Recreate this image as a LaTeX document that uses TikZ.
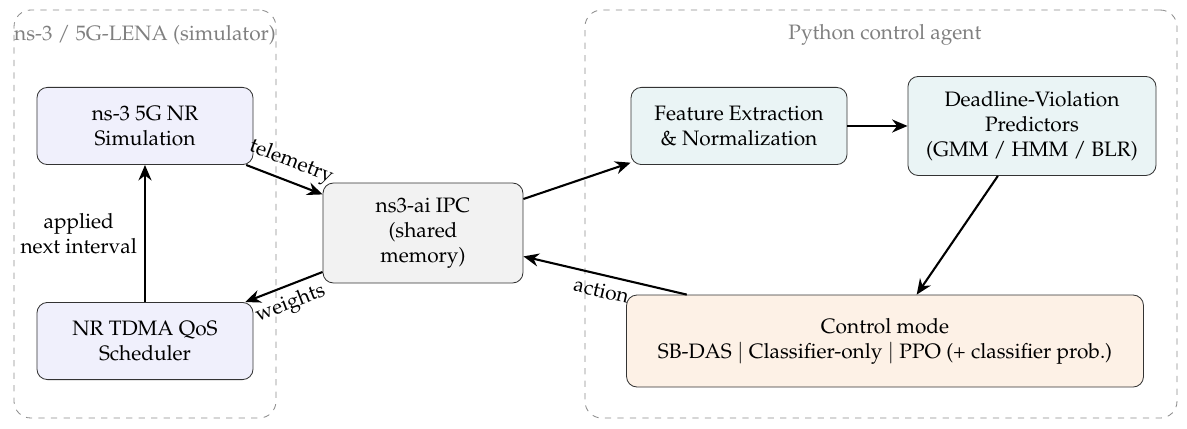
\documentclass[tikz,border=0pt]{standalone}
\usepackage[T1]{fontenc}
\usepackage{mathpazo}
\definecolor{SimLavender}{RGB}{240,240,252}
\definecolor{AgentTeal}{RGB}{234,244,245}
\definecolor{ModePeach}{RGB}{253,241,230}
\definecolor{IpcGray}{RGB}{242,242,242}
\definecolor{FrameGray}{RGB}{140,140,140}
\definecolor{TitleGray}{RGB}{128,128,128}
\usetikzlibrary{arrows.meta,positioning}
\tikzset{
  block/.style={draw=black!80, rounded corners=5pt, align=center, minimum width=3.64cm, minimum height=1.3cm},
  group/.style={draw=FrameGray, dashed, rounded corners=8pt},
  flow/.style={-{Stealth[length=2.6mm,width=2.2mm]}, line width=1pt},
}

\begin{document}
\begin{tikzpicture}
\useasboundingbox (0,0) rectangle (20,-7.212);

% dashed groups
\node[group, minimum width=4.414cm, minimum height=6.874cm] (simgroup) at (2.443,-3.606) {};
\node[group, minimum width=9.975cm, minimum height=6.874cm] (agentgroup) at (14.844,-3.606) {};
\node[text=TitleGray] (simtitle) at (2.443,-0.59) {ns-3 / 5G-LENA (simulator)};
\node[text=TitleGray] (agenttitle) at (14.91,-0.59) {Python control agent};

% simulator side
\node[block, fill=SimLavender] (sim) at (2.443,-2.123) {ns-3 5G NR\\Simulation};
\node[block, fill=SimLavender] (sched) at (2.443,-5.746) {NR TDMA QoS\\Scheduler};
\node[block, fill=IpcGray, minimum width=3.37cm, minimum height=1.685cm] (ipc) at (7.127,-3.926) {ns3-ai IPC\\(shared\\memory)};

% agent side
\node[block, fill=AgentTeal] (feat) at (12.452,-2.123) {Feature Extraction\\\& Normalization};
\node[block, fill=AgentTeal, minimum width=4.18cm, minimum height=1.67cm] (pred) at (17.388,-2.123) {Deadline-Violation\\Predictors\\(GMM / HMM / BLR)};
\node[block, fill=ModePeach, minimum width=8.71cm, minimum height=1.55cm] (ctrl) at (14.912,-5.746) {Control mode\\SB-DAS $\mid$ Classifier-only $\mid$ PPO (+ classifier prob.)};

% connectors
\draw[flow] (sim) -- node[sloped, above] {telemetry} (ipc);
\draw[flow] (ipc) -- node[sloped, below] {weights} (sched);
\draw[flow] (sched) -- node[left, align=center] {applied\\next interval} (sim);
\draw[flow] (ipc) -- (feat);
\draw[flow] (feat) -- (pred);
\draw[flow] (pred) -- (ctrl);
\draw[flow] (ctrl) -- node[sloped, below] {action} (ipc);
\end{tikzpicture}
\end{document}
